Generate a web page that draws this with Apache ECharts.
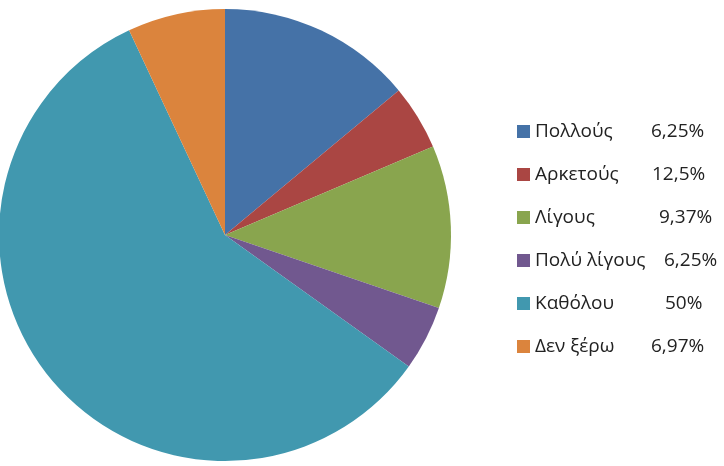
<!DOCTYPE html>
<html>
<head>
<meta charset="utf-8">
<style>
  html, body { margin: 0; padding: 0; background: #fff; }
  #chart { width: 724px; height: 466px; }
</style>
<script src="https://cdn.jsdelivr.net/npm/echarts@6/dist/echarts.min.js"></script>
</head>
<body>
<div id="chart"></div>
<script>
const categories = ['Πολλούς', 'Αρκετούς', 'Λίγους', 'Πολύ λίγους', 'Καθόλου', 'Δεν ξέρω'];
// slice sizes (answers out of 43)
const values = [6, 2, 5, 2, 25, 3];
// percentages as printed in the legend
const legendPercents = ['6,25%', '12,5%', '9,37%', '6,25%', '50%', '6,97%'];
const colors = ['#4572A7', '#AA4643', '#89A54E', '#71588F', '#4198AF', '#DB843D'];

// the percentages in the legend were spaced by hand, so each one sits a bit differently
const pctShift = [0, 1, 8, 13, 14, 0];

const chart = echarts.init(document.getElementById('chart'));

const rich = {
  n: { width: 116, fontSize: 19, fontFamily: 'Open Sans', color: '#222' }
};
pctShift.forEach((s, i) => {
  rich['p' + i] = { fontSize: 19, fontFamily: 'Open Sans', color: '#222', padding: [0, 0, 0, s] };
});

const option = {
  animation: false,
  color: colors,
  legend: {
    orient: 'vertical',
    left: 512,
    top: 117,
    itemWidth: 13,
    itemHeight: 13,
    itemGap: 24,
    icon: 'rect',
    data: categories,
    textStyle: {
      fontFamily: 'Open Sans',
      fontSize: 19,
      color: '#222',
      rich: rich
    },
    formatter: name => {
      const i = categories.indexOf(name);
      return '{n|' + name + '}{p' + i + '|' + legendPercents[i] + '}';
    }
  },
  series: [
    {
      type: 'pie',
      center: [225, 235],
      radius: 226,
      startAngle: 90,
      clockwise: true,
      label: { show: false },
      labelLine: { show: false },
      emphasis: { disabled: true },
      data: categories.map((c, i) => ({ name: c, value: values[i] }))
    }
  ]
};

chart.setOption(option);
</script>
</body>
</html>
